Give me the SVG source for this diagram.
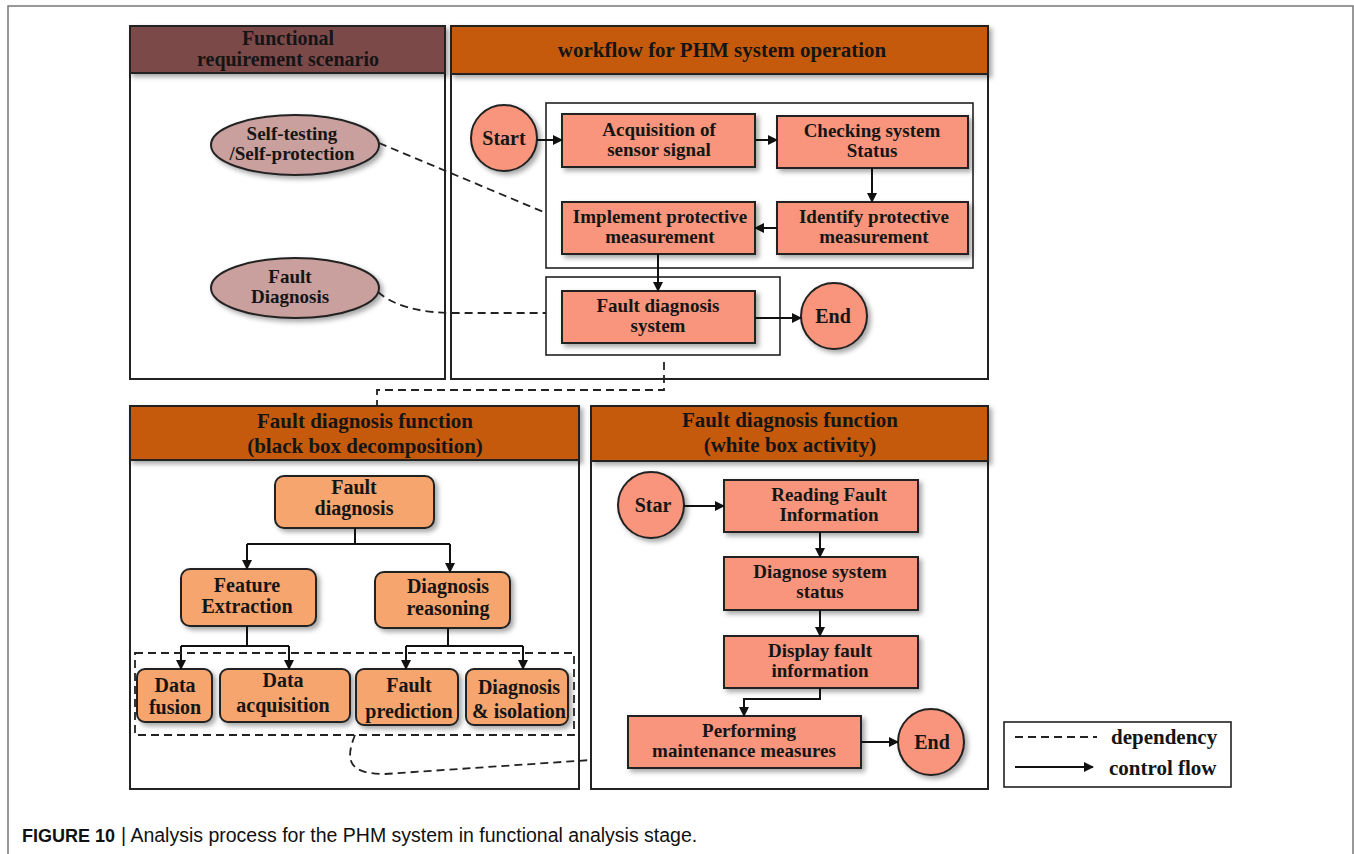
<svg xmlns="http://www.w3.org/2000/svg" width="1354" height="854" viewBox="0 0 1354 854">
<defs>
<marker id="arr" viewBox="0 0 10 10" refX="9" refY="5" markerWidth="10" markerHeight="10" markerUnits="userSpaceOnUse" orient="auto">
<path d="M0,0 L10,5 L0,10 z" fill="#111"/>
</marker>
<filter id="sh" x="-20%" y="-20%" width="150%" height="150%">
<feDropShadow dx="3" dy="3" stdDeviation="2.5" flood-color="#000" flood-opacity="0.35"/>
</filter>
</defs>
<style>
.frame{fill:none;stroke:#777;stroke-width:1.5}
.panel{fill:#fff;stroke:#222;stroke-width:2}
.hdr{stroke:#222;stroke-width:2;filter:url(#sh)}
.hdr1{fill:#7b4848}
.hdr2{fill:#c55a11}
.inbox{fill:none;stroke:#222;stroke-width:1.6}
.node{fill:#f8957c;stroke:#222;stroke-width:2;filter:url(#sh)}
.rnode{fill:#f6a56e;stroke:#222;stroke-width:2;filter:url(#sh)}
.ell{fill:#c9a09e;stroke:#222;stroke-width:2;filter:url(#sh)}
.t{font-family:"Liberation Serif","Times New Roman",serif;font-weight:bold;font-size:19px;fill:#151515;text-anchor:middle}
.t2{font-family:"Liberation Serif","Times New Roman",serif;font-weight:bold;font-size:20px;fill:#151515;text-anchor:middle}
.h{font-family:"Liberation Serif","Times New Roman",serif;font-weight:bold;font-size:21px;fill:#151515;text-anchor:middle}
.flow{fill:none;stroke:#111;stroke-width:2;marker-end:url(#arr)}
.line{fill:none;stroke:#111;stroke-width:2}
.dep{fill:none;stroke:#222;stroke-width:1.8;stroke-dasharray:8,5}
.cap{font-family:"Liberation Sans",Arial,sans-serif;fill:#111}
</style>

<rect class="frame" x="8" y="6" width="1345" height="860"/>

<!-- Panel 1 -->
<g id="panel-functional-requirement">
<rect class="panel" x="130" y="26" width="315" height="353"/>
<rect class="hdr hdr1" x="130" y="26" width="315" height="47"/>
<text class="h" x="288" y="45" style="font-size:20px">Functional</text>
<text class="h" x="288" y="66" style="font-size:20px">requirement scenario</text>
</g>
<g id="ell-self-testing">
<ellipse class="ell" cx="295" cy="145" rx="84" ry="30"/>
<text class="t" x="292" y="140">Self-testing</text>
<text class="t" x="292" y="160">/Self-protection</text>
</g>
<g id="ell-fault-diagnosis">
<ellipse class="ell" cx="295" cy="288" rx="84" ry="30"/>
<text class="t" x="290" y="283">Fault</text>
<text class="t" x="290" y="303">Diagnosis</text>
</g>

<!-- Panel 2 -->
<g id="panel-workflow">
<rect class="panel" x="451" y="26" width="537" height="353"/>
<rect class="hdr hdr2" x="451" y="26" width="537" height="48"/>
<text class="h" x="722" y="57">workflow for PHM system operation</text>
<rect class="inbox" x="546" y="103" width="427" height="165"/>
<rect class="inbox" x="546" y="277" width="234" height="78"/>
</g>
<g id="wf-start">
<circle class="node" cx="504" cy="138" r="33"/>
<text class="t2" x="504" y="145">Start</text>
</g>
<g id="wf-acquisition">
<rect class="node" x="562" y="114" width="193" height="53"/>
<text class="t" x="659" y="136">Acquisition of</text>
<text class="t" x="659" y="156">sensor signal</text>
</g>
<g id="wf-checking">
<rect class="node" x="777" y="116" width="191" height="52"/>
<text class="t" x="872" y="137">Checking system</text>
<text class="t" x="872" y="157">Status</text>
</g>
<g id="wf-identify">
<rect class="node" x="777" y="202" width="191" height="52"/>
<text class="t" x="874" y="223">Identify protective</text>
<text class="t" x="874" y="243">measurement</text>
</g>
<g id="wf-implement">
<rect class="node" x="562" y="202" width="193" height="52"/>
<text class="t" x="660" y="223">Implement protective</text>
<text class="t" x="660" y="243">measurement</text>
</g>
<g id="wf-fault-system">
<rect class="node" x="562" y="291" width="193" height="52"/>
<text class="t" x="658" y="312">Fault diagnosis</text>
<text class="t" x="658" y="332">system</text>
</g>
<g id="wf-end">
<circle class="node" cx="834" cy="316" r="33"/>
<text class="t2" x="833" y="323">End</text>
</g>

<!-- Panel 3 -->
<g id="panel-blackbox">
<rect class="panel" x="130" y="406" width="449" height="383"/>
<rect class="hdr hdr2" x="130" y="406" width="449" height="54"/>
<text class="h" x="365" y="428">Fault diagnosis function</text>
<text class="h" x="365" y="453">(black box decomposition)</text>
</g>
<g id="bb-fault-diagnosis">
<rect class="rnode" x="275" y="476" width="159" height="52" rx="9"/>
<text class="t2" x="354" y="494">Fault</text>
<text class="t2" x="354" y="515">diagnosis</text>
</g>
<g id="bb-feature-extraction">
<rect class="rnode" x="181" y="569" width="135" height="57" rx="9"/>
<text class="t2" x="247" y="592">Feature</text>
<text class="t2" x="247" y="613">Extraction</text>
</g>
<g id="bb-diagnosis-reasoning">
<rect class="rnode" x="375" y="572" width="135" height="56" rx="9"/>
<text class="t2" x="448" y="593">Diagnosis</text>
<text class="t2" x="448" y="615">reasoning</text>
</g>
<g id="bb-data-fusion">
<rect class="rnode" x="137" y="669" width="75" height="53" rx="8"/>
<text class="t2" x="175" y="692">Data</text>
<text class="t2" x="175" y="714">fusion</text>
</g>
<g id="bb-data-acquisition">
<rect class="rnode" x="220" y="669" width="130" height="53" rx="8"/>
<text class="t2" x="283" y="687">Data</text>
<text class="t2" x="283" y="712">acquisition</text>
</g>
<g id="bb-fault-prediction">
<rect class="rnode" x="356" y="669" width="102" height="56" rx="8"/>
<text class="t2" x="409" y="692">Fault</text>
<text class="t2" x="409" y="718">prediction</text>
</g>
<g id="bb-diagnosis-isolation">
<rect class="rnode" x="466" y="669" width="102" height="56" rx="8"/>
<text class="t2" x="519" y="694">Diagnosis</text>
<text class="t2" x="519" y="718">&amp; isolation</text>
</g>

<!-- Panel 4 -->
<g id="panel-whitebox">
<rect class="panel" x="591" y="406" width="397" height="383"/>
<rect class="hdr hdr2" x="591" y="406" width="397" height="55"/>
<text class="h" x="790" y="427">Fault diagnosis function</text>
<text class="h" x="790" y="452">(white box activity)</text>
</g>
<g id="wb-star">
<circle class="node" cx="651" cy="505" r="33"/>
<text class="t2" x="653" y="512">Star</text>
</g>
<g id="wb-reading">
<rect class="node" x="724" y="480" width="194" height="52"/>
<text class="t" x="829" y="501">Reading Fault</text>
<text class="t" x="829" y="521">Information</text>
</g>
<g id="wb-diagnose">
<rect class="node" x="724" y="557" width="194" height="53"/>
<text class="t" x="820" y="578">Diagnose system</text>
<text class="t" x="820" y="598">status</text>
</g>
<g id="wb-display">
<rect class="node" x="724" y="636" width="194" height="52"/>
<text class="t" x="820" y="657">Display fault</text>
<text class="t" x="820" y="677">information</text>
</g>
<g id="wb-performing">
<rect class="node" x="628" y="716" width="233" height="52"/>
<text class="t" x="749" y="737">Performing</text>
<text class="t" x="744" y="757">maintenance measures</text>
</g>
<g id="wb-end">
<circle class="node" cx="931" cy="742" r="33"/>
<text class="t2" x="932" y="749">End</text>
</g>

<!-- Legend -->
<g id="legend">
<rect x="1004" y="722" width="227" height="65" fill="#fff" stroke="#222" stroke-width="1.6"/>
<line class="dep" x1="1015" y1="737" x2="1097" y2="737"/>
<text class="t2" x="1111" y="744" style="text-anchor:start;font-size:21px">dependency</text>
<line class="flow" x1="1015" y1="767" x2="1093" y2="767"/>
<text class="t2" x="1109" y="775" style="text-anchor:start;font-size:21px">control flow</text>
</g>

<!-- Connectors -->
<g id="connectors">
<line class="flow" x1="537" y1="140" x2="562" y2="140"/>
<line class="flow" x1="755" y1="140" x2="777" y2="140"/>
<line class="flow" x1="872" y1="168" x2="872" y2="202"/>
<line class="flow" x1="777" y1="228" x2="755" y2="228"/>
<line class="flow" x1="658" y1="254" x2="658" y2="291"/>
<line class="flow" x1="755" y1="318" x2="801" y2="318"/>

<path class="line" d="M355,528 V544 M247,544 H450"/>
<line class="flow" x1="247" y1="544" x2="247" y2="569"/>
<line class="flow" x1="450" y1="544" x2="450" y2="572"/>
<path class="line" d="M247,626 V646 M181,646 H289"/>
<line class="flow" x1="181" y1="646" x2="181" y2="669"/>
<line class="flow" x1="289" y1="646" x2="289" y2="669"/>
<path class="line" d="M448,628 V646 M406,646 H523"/>
<line class="flow" x1="406" y1="646" x2="406" y2="669"/>
<line class="flow" x1="523" y1="646" x2="523" y2="669"/>

<line class="flow" x1="684" y1="506" x2="724" y2="506"/>
<line class="flow" x1="820" y1="532" x2="820" y2="557"/>
<line class="flow" x1="820" y1="610" x2="820" y2="636"/>
<path class="flow" d="M820,688 V699 H744 V716"/>
<line class="flow" x1="861" y1="742" x2="898" y2="742"/>

<path class="dep" d="M379,143 L546,213"/>
<path class="dep" d="M378,292 Q402,313 455,313 L546,313"/>
<path class="dep" d="M664,362 V390 H377 V406"/>
<rect class="dep" x="135" y="653" width="439" height="82"/>
<path class="dep" d="M355,735 C345,760 348,774 385,774 L591,760"/>
</g>

<!-- Caption -->
<g id="caption">
<text class="cap" x="22" y="842" font-size="18" font-weight="bold">FIGURE 10</text>
<text class="cap" x="121" y="842" font-size="19.5">| Analysis process for the PHM system in functional analysis stage.</text>
</g>
</svg>
